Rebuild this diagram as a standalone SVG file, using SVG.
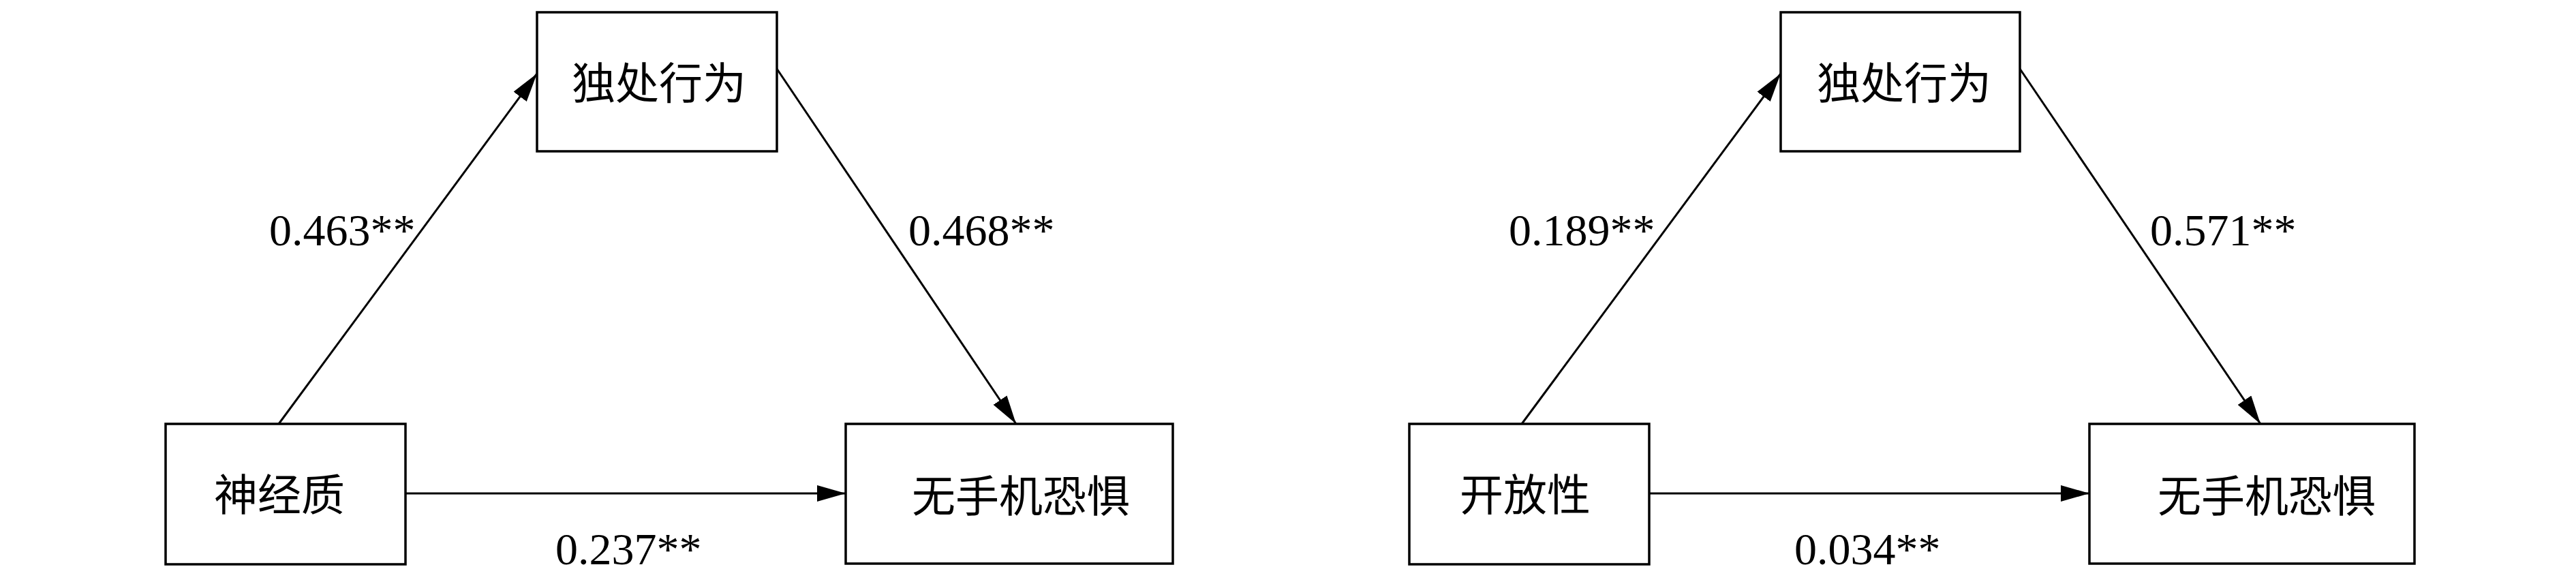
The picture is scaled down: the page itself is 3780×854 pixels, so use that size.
<svg xmlns="http://www.w3.org/2000/svg" width="3780" height="854" viewBox="0 0 3780 854">
<style>
.box{fill:#fff;stroke:#000;stroke-width:3.5}
.cjk{font-family:"Liberation Serif","Noto Sans CJK SC",serif;font-size:64px;text-anchor:middle;dominant-baseline:central;fill:#000}
.num{font-family:"Liberation Serif",serif;font-size:66px;fill:#000}
.edge{stroke:#000;stroke-width:3;fill:none;marker-end:url(#ah)}
</style>
<defs>
<marker id="ah" markerUnits="userSpaceOnUse" markerWidth="42" markerHeight="24" refX="42" refY="12" orient="auto">
<path d="M0,0 L42,12 L0,24 z" fill="#000"/>
</marker>
</defs>
<rect width="3780" height="854" fill="#fff"/>
<g id="connectors">
<line class="edge" x1="409" y1="622" x2="788" y2="108"/>
<line class="edge" x1="1140" y1="101" x2="1491" y2="622"/>
<line class="edge" x1="595" y1="724" x2="1241" y2="724"/>
<line class="edge" x1="2233" y1="622" x2="2613" y2="108"/>
<line class="edge" x1="2964" y1="101" x2="3317" y2="622"/>
<line class="edge" x1="2420" y1="724" x2="3066" y2="724"/>
<text class="num" x="395" y="360">0.463**</text>
<text class="num" x="1333" y="360">0.468**</text>
<text class="num" x="815" y="828">0.237**</text>
<text class="num" x="2214" y="360">0.189**</text>
<text class="num" x="3155" y="360">0.571**</text>
<text class="num" x="2633" y="828">0.034**</text>
</g>
<g id="n_neuro">
<rect class="box" x="243" y="622" width="352" height="206"/>
<text class="cjk" x="410" y="727">神经质</text>
</g>
<g id="n_solitude1">
<rect class="box" x="788" y="18" width="352" height="204"/>
<text class="cjk" x="967" y="123">独处行为</text>
</g>
<g id="n_phobia1">
<rect class="box" x="1241" y="622" width="480" height="205"/>
<text class="cjk" x="1498" y="729">无手机恐惧</text>
</g>
<g id="n_open">
<rect class="box" x="2068" y="622" width="352" height="206"/>
<text class="cjk" x="2238" y="727">开放性</text>
</g>
<g id="n_solitude2">
<rect class="box" x="2613" y="18" width="351" height="204"/>
<text class="cjk" x="2794" y="123">独处行为</text>
</g>
<g id="n_phobia2">
<rect class="box" x="3066" y="622" width="477" height="205"/>
<text class="cjk" x="3326" y="729">无手机恐惧</text>
</g>
</svg>
